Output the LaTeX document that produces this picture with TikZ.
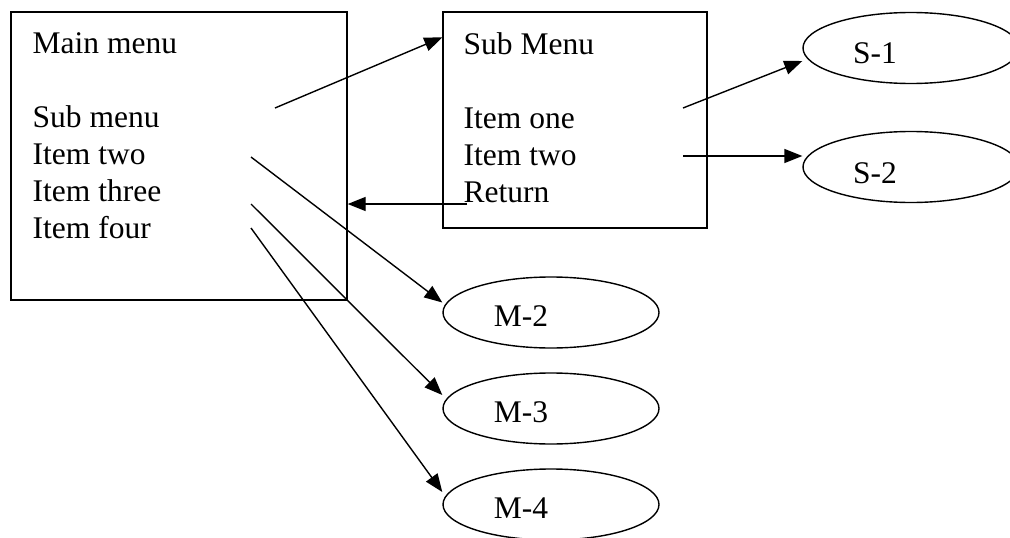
\documentclass[tikz,border=0pt]{standalone}
\usepackage{fontspec}
\setmainfont{Liberation Serif}
\usetikzlibrary{shapes.geometric,arrows.meta,positioning}

\tikzset{
  menu/.style={draw, inner sep=0pt},
  lines/.style={align=left, inner sep=0pt, font=\fontsize{31.5}{37}\selectfont},
  oval/.style={draw, ellipse, inner sep=0pt, minimum width=216pt, minimum height=71pt},
  tag/.style={inner sep=0pt, font=\fontsize{31.5}{37}\selectfont}
}

\begin{document}
\begin{tikzpicture}[x=1pt, y=-1pt, node distance=96pt, on grid, line width=1.4pt, >={Triangle[length=18pt,width=14pt]}]
            \useasboundingbox (0,0) rectangle (1010,538);
            % menus
            \node[menu, minimum width=336pt, minimum height=288pt] (main) at (179,156) {};
            \node[lines, anchor=north west] (mainlist) at (32,31.5) {Main menu\\[37pt]Sub menu\\Item two\\Item three\\Item four};
            \node[menu, minimum width=264pt, minimum height=216pt] (sub) at (575,120) {};
            \node[lines, anchor=north west] (sublist) at (463,31.5) {Sub Menu\\[37pt]Item one\\Item two\\Return};
            % screens
            \node[oval, label={[tag, name=s1t, xshift=-36pt, yshift=-5pt]center:S-1}] (s1) at (911,48) {};
            \node[oval, below=119pt of s1, label={[tag, name=s2t, xshift=-36pt, yshift=-6pt]center:S-2}] (s2) {};
            \node[oval, label={[tag, name=m2t, xshift=-30pt, yshift=-3.5pt]center:M-2}] (m2) at (551,312.5) {};
            \node[oval, below of=m2, label={[tag, name=m3t, xshift=-30pt, yshift=-3.5pt]center:M-3}] (m3) {};
            \node[oval, below of=m3, label={[tag, name=m4t, xshift=-30pt, yshift=-3.5pt]center:M-4}] (m4) {};
            % line ends
            \coordinate (go) at (275,108);
            \coordinate (back) at (467,204);
            \coordinate (one) at (683,108);
            \coordinate (two) at (683,156);
            \coordinate (i2) at (251,157);
            \coordinate (i3) at (251,204);
            \coordinate (i4) at (251,228);
            \path[->] (go) edge ([yshift=-26pt]sub.north west);
            \path[->] (back) edge (back -| main.east);
            \path[->] (one) edge ([yshift=-13pt]s1.west);
            \path[->] (two) edge (two -| s2.west);
            \path[->] (i2) edge ([yshift=10pt]m2.west);
            \path[->] (i3) edge ([yshift=13.5pt]m3.west);
            \path[->] (i4) edge ([yshift=12.5pt]m4.west);
        \end{tikzpicture}
\end{document}
